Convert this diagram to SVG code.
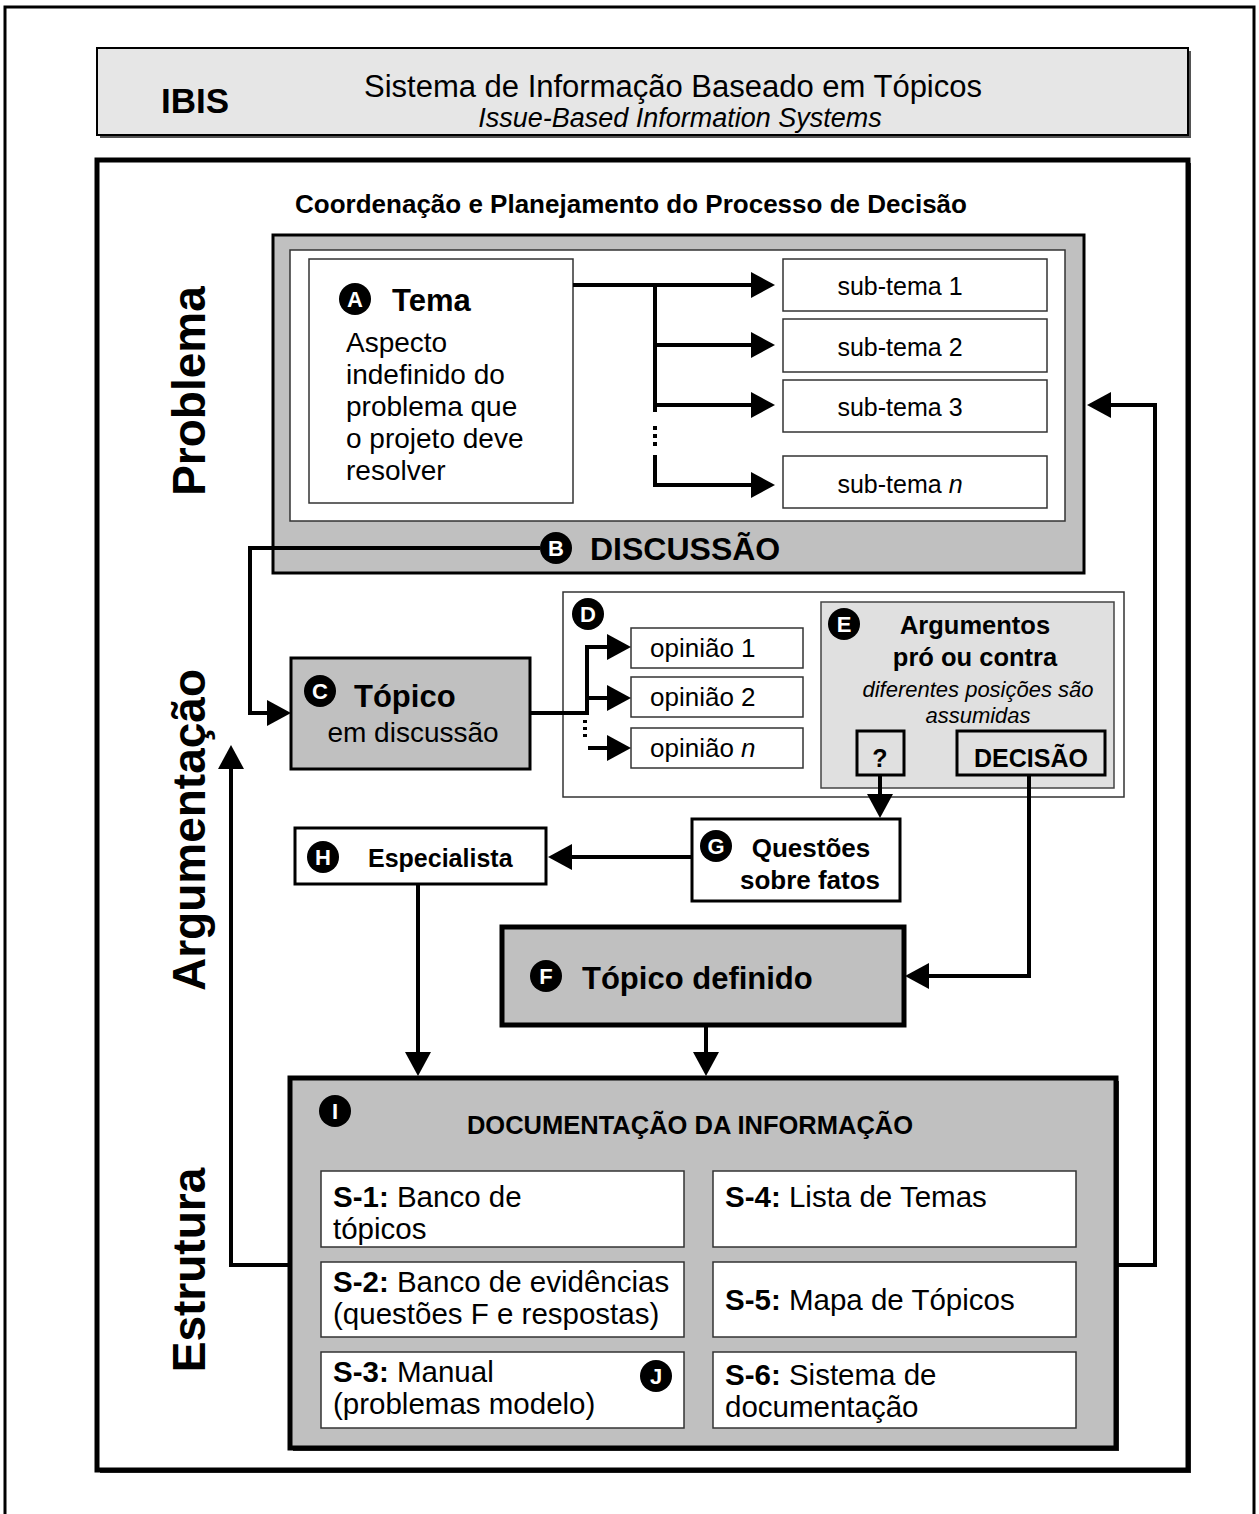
<svg xmlns="http://www.w3.org/2000/svg" width="1259" height="1514" viewBox="0 0 1259 1514">
<defs>
<marker id="ah" markerUnits="userSpaceOnUse" markerWidth="24" markerHeight="26" refX="14" refY="13" orient="auto"><path d="M0,0 L24,13 L0,26 Z" fill="#000"/></marker>
</defs>
<style>
text{font-family:"Liberation Sans",Arial,sans-serif;fill:#000}
.b{font-weight:bold}
.i{font-style:italic}
.m{text-anchor:middle}
.lbl circle{fill:#000}
.lbl text{fill:#fff;font-weight:bold;font-size:22px;text-anchor:middle}
.conn path{fill:none;stroke:#000;stroke-width:4}
.thin{fill:#fff;stroke:#333;stroke-width:1.5}
.gray{fill:#c0c0c0;stroke:#000}
.side{font-size:46px;font-weight:bold;text-anchor:middle}
.st{font-size:25px;text-anchor:middle}
.op{font-size:26px}
.sx{font-size:29.5px}
</style>
<rect x="0" y="0" width="1259" height="1514" fill="#fff"/>
<path d="M5,1514 V7 H1254 V1514" fill="none" stroke="#000" stroke-width="3"/>

<g id="header">
<rect x="100" y="51" width="1091" height="87" fill="#555"/>
<rect x="97" y="48" width="1091" height="87" fill="#e6e6e6" stroke="#000" stroke-width="2"/>
<text x="161" y="113" class="b" font-size="35">IBIS</text>
<text x="673" y="97" class="m" font-size="31">Sistema de Informação Baseado em Tópicos</text>
<text x="680" y="127" class="i m" font-size="27">Issue-Based Information Systems</text>
</g>

<g id="main">
<rect x="100" y="163" width="1091" height="1310" fill="#333"/>
<rect x="97" y="160" width="1091" height="1310" fill="#fff" stroke="#000" stroke-width="5"/>
<text x="631" y="213" class="b m" font-size="26">Coordenação e Planejamento do Processo de Decisão</text>
<text x="205" y="391" class="side" transform="rotate(-90 205 391)">Problema</text>
<text x="205" y="830" class="side" transform="rotate(-90 205 830)">Argumentação</text>
<text x="205" y="1270" class="side" transform="rotate(-90 205 1270)">Estrutura</text>
</g>

<g id="problema">
<rect x="273" y="235" width="811" height="338" class="gray" stroke-width="3"/>
<rect x="290" y="250" width="775" height="271" class="thin"/>
</g>

<g id="tema">
<rect x="309" y="259" width="264" height="244" class="thin"/>
<g class="lbl"><circle cx="355" cy="299" r="16"/><text x="355" y="307">A</text></g>
<text x="392" y="311" class="b" font-size="31">Tema</text>
<text x="346" y="352" font-size="28">Aspecto</text>
<text x="346" y="384" font-size="28">indefinido do</text>
<text x="346" y="416" font-size="28">problema que</text>
<text x="346" y="448" font-size="28">o projeto deve</text>
<text x="346" y="480" font-size="28">resolver</text>
</g>

<g id="subtema1"><rect x="783" y="259" width="264" height="52" class="thin"/><text x="900" y="295" class="st">sub-tema 1</text></g>
<g id="subtema2"><rect x="783" y="319" width="264" height="53" class="thin"/><text x="900" y="356" class="st">sub-tema 2</text></g>
<g id="subtema3"><rect x="783" y="380" width="264" height="52" class="thin"/><text x="900" y="416" class="st">sub-tema 3</text></g>
<g id="subteman"><rect x="783" y="456" width="264" height="52" class="thin"/><text x="900" y="493" class="st">sub-tema <tspan class="i">n</tspan></text></g>

<g id="discussao">
<g class="lbl"><circle cx="556" cy="548" r="16"/><text x="556" y="556">B</text></g>
<text x="590" y="560" class="b" font-size="32">DISCUSSÃO</text>
</g>

<g id="topico">
<rect x="291" y="658" width="239" height="111" class="gray" stroke-width="3"/>
<g class="lbl"><circle cx="320" cy="691" r="16"/><text x="320" y="699">C</text></g>
<text x="354" y="707" class="b" font-size="31">Tópico</text>
<text x="413" y="742" class="m" font-size="28">em discussão</text>
</g>

<g id="debate">
<rect x="563" y="592" width="561" height="205" class="thin"/>
<g class="lbl"><circle cx="588" cy="614" r="16"/><text x="588" y="622">D</text></g>
</g>
<g id="opiniao1"><rect x="631" y="628" width="172" height="40" class="thin"/><text x="650" y="657" class="op">opinião 1</text></g>
<g id="opiniao2"><rect x="631" y="677" width="172" height="40" class="thin"/><text x="650" y="706" class="op">opinião 2</text></g>
<g id="opiniaon"><rect x="631" y="728" width="172" height="40" class="thin"/><text x="650" y="757" class="op">opinião <tspan class="i">n</tspan></text></g>

<g id="argumentos">
<rect x="821" y="602" width="293" height="186" fill="#e0e0e0" stroke="#444" stroke-width="1.5"/>
<g class="lbl"><circle cx="844" cy="624" r="16"/><text x="844" y="632">E</text></g>
<text x="975" y="634" class="b m" font-size="25.5">Argumentos</text>
<text x="975" y="666" class="b m" font-size="25.5">pró ou contra</text>
<text x="978" y="697" class="i m" font-size="22">diferentes posições são</text>
<text x="978" y="723" class="i m" font-size="22">assumidas</text>
</g>
<g id="questao"><rect x="857" y="731" width="47" height="44" fill="#e0e0e0" stroke="#000" stroke-width="3"/><text x="880" y="767" class="b m" font-size="25">?</text></g>
<g id="decisao"><rect x="957" y="731" width="148" height="44" fill="#e0e0e0" stroke="#000" stroke-width="3"/><text x="1031" y="767" class="b m" font-size="25">DECISÃO</text></g>

<g id="questoes">
<rect x="692" y="819" width="208" height="82" fill="#fff" stroke="#000" stroke-width="3"/>
<g class="lbl"><circle cx="716" cy="846" r="16"/><text x="716" y="854">G</text></g>
<text x="811" y="857" class="b m" font-size="26">Questões</text>
<text x="810" y="889" class="b m" font-size="26">sobre fatos</text>
</g>

<g id="especialista">
<rect x="295" y="828" width="251" height="56" fill="#fff" stroke="#000" stroke-width="3"/>
<g class="lbl"><circle cx="323" cy="857" r="16"/><text x="323" y="865">H</text></g>
<text x="368" y="867" class="b" font-size="25">Especialista</text>
</g>

<g id="definido">
<rect x="502" y="927" width="402" height="98" class="gray" stroke-width="5"/>
<g class="lbl"><circle cx="546" cy="976" r="16"/><text x="546" y="984">F</text></g>
<text x="582" y="989" class="b" font-size="31">Tópico definido</text>
</g>

<g id="documentacao">
<rect x="293" y="1081" width="826" height="370" fill="#333"/>
<rect x="290" y="1078" width="826" height="370" class="gray" stroke-width="5"/>
<g class="lbl"><circle cx="335" cy="1111" r="16"/><text x="335" y="1119">I</text></g>
<text x="690" y="1134" class="b m" font-size="25.5">DOCUMENTAÇÃO DA INFORMAÇÃO</text>
</g>
<g id="s1"><rect x="321" y="1171" width="363" height="76" class="thin"/><text x="333" y="1207" class="sx"><tspan class="b">S-1:</tspan> Banco de</text><text x="333" y="1239" class="sx">tópicos</text></g>
<g id="s2"><rect x="321" y="1262" width="363" height="75" class="thin"/><text x="333" y="1292" class="sx"><tspan class="b">S-2:</tspan> Banco de evidências</text><text x="333" y="1324" class="sx">(questões F e respostas)</text></g>
<g id="s3"><rect x="321" y="1352" width="363" height="76" class="thin"/><text x="333" y="1382" class="sx"><tspan class="b">S-3:</tspan> Manual</text><text x="333" y="1414" class="sx">(problemas modelo)</text>
<g class="lbl"><circle cx="656" cy="1376" r="16"/><text x="656" y="1384">J</text></g></g>
<g id="s4"><rect x="713" y="1171" width="363" height="76" class="thin"/><text x="725" y="1207" class="sx"><tspan class="b">S-4:</tspan> Lista de Temas</text></g>
<g id="s5"><rect x="713" y="1262" width="363" height="75" class="thin"/><text x="725" y="1310" class="sx"><tspan class="b">S-5:</tspan> Mapa de Tópicos</text></g>
<g id="s6"><rect x="713" y="1352" width="363" height="76" class="thin"/><text x="725" y="1385" class="sx"><tspan class="b">S-6:</tspan> Sistema de</text><text x="725" y="1417" class="sx">documentação</text></g>

<g id="connectors" class="conn">
<path d="M573,285 H765" marker-end="url(#ah)"/>
<path d="M655,285 V412"/>
<path d="M655,345 H765" marker-end="url(#ah)"/>
<path d="M655,405 H765" marker-end="url(#ah)"/>
<path d="M655,455 V485 H765" marker-end="url(#ah)"/>
<path d="M655,426 V450" stroke-dasharray="4 4"/>
<path d="M540,548 H250 V713 H281" marker-end="url(#ah)"/>
<path d="M530,713 H587 V647 H621" marker-end="url(#ah)"/>
<path d="M587,698 H621" marker-end="url(#ah)"/>
<path d="M585,720 V740" stroke-width="2.5" stroke-dasharray="3 4"/>
<path d="M588,748 H621" marker-end="url(#ah)"/>
<path d="M880,775 V808" marker-end="url(#ah)"/>
<path d="M1029,775 V976 H915" marker-end="url(#ah)"/>
<path d="M692,857 H558" marker-end="url(#ah)"/>
<path d="M418,884 V1066" marker-end="url(#ah)"/>
<path d="M706,1025 V1066" marker-end="url(#ah)"/>
<path d="M290,1265 H231 V755" marker-end="url(#ah)"/>
<path d="M1116,1265 H1155 V405 H1097" marker-end="url(#ah)"/>
</g>
</svg>
